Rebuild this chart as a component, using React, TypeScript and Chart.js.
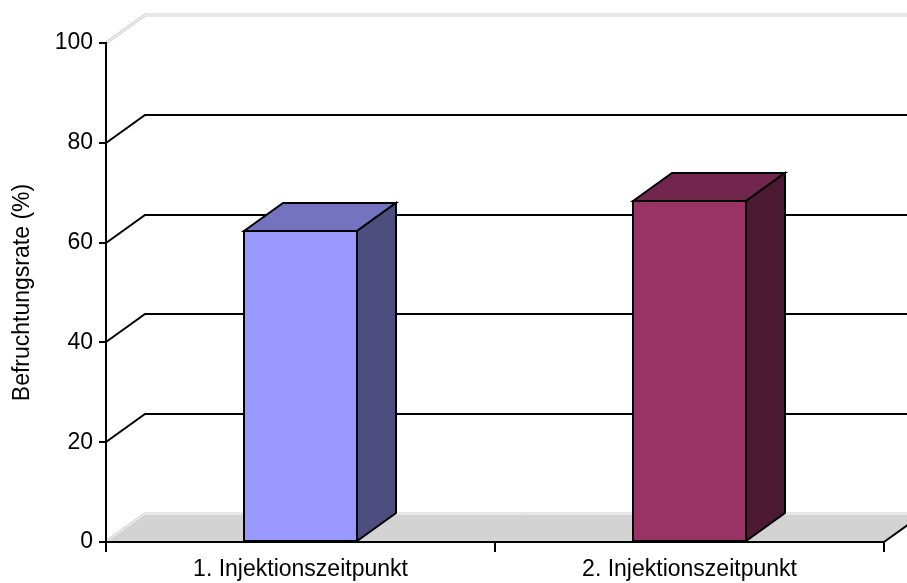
import React, { useEffect, useRef } from "react";
import { Chart, registerables } from "chart.js";

Chart.register(...registerables);

// Categories and fertilisation rates (%)
const CATEGORIES = ["1. Injektionszeitpunkt", "2. Injektionszeitpunkt"];
const RATES = [62.3, 68.3];
const FRONT_COLORS = ["#9999ff", "#993366"];
const Y_MIN = 0;
const Y_MAX = 100;
const Y_STEP = 20;
const Y_TITLE = "Befruchtungsrate (%)";

const FONT = "'Liberation Sans', Arial, sans-serif";
const DEPTH_X = 39;
const DEPTH_Y = 28;

function shade(hex: string, f: number): string {
  const n = parseInt(hex.slice(1), 16);
  const r = Math.round(((n >> 16) & 255) * f);
  const g = Math.round(((n >> 8) & 255) * f);
  const b = Math.round((n & 255) * f);
  return `rgb(${r},${g},${b})`;
}

function lightLine(ctx: CanvasRenderingContext2D, pts: number[][]) {
  ctx.save();
  ctx.beginPath();
  ctx.moveTo(pts[0][0], pts[0][1]);
  for (let i = 1; i < pts.length; i++) ctx.lineTo(pts[i][0], pts[i][1]);
  ctx.lineWidth = 3;
  ctx.strokeStyle = "#cfcfcf";
  ctx.stroke();
  ctx.lineWidth = 1;
  ctx.strokeStyle = "#ffffff";
  ctx.stroke();
  ctx.restore();
}

// Walls, floor and the 3D boxes around the bars
const box3d = {
  id: "box3d",
  beforeDraw(chart: any) {
    const { ctx, chartArea: a, scales } = chart;
    const ys = scales.y;
    const far = chart.width + DEPTH_X + 10;
    const left = Math.round(a.left);
    const right = Math.round(a.right);
    ctx.save();
    ctx.fillStyle = "#ffffff";
    ctx.fillRect(0, 0, chart.width, chart.height);

    // floor
    const y0 = Math.round(ys.getPixelForValue(Y_MIN));
    ctx.beginPath();
    ctx.moveTo(left, y0);
    ctx.lineTo(right, y0);
    ctx.lineTo(right + DEPTH_X, y0 - DEPTH_Y);
    ctx.lineTo(left + DEPTH_X, y0 - DEPTH_Y);
    ctx.closePath();
    ctx.fillStyle = "#d3d3d3";
    ctx.fill();
    lightLine(ctx, [
      [left, y0],
      [left + DEPTH_X, y0 - DEPTH_Y],
      [far, y0 - DEPTH_Y],
    ]);
    ctx.beginPath();
    ctx.moveTo(right, y0);
    ctx.lineTo(right + DEPTH_X, y0 - DEPTH_Y);
    ctx.lineWidth = 2;
    ctx.strokeStyle = "#000000";
    ctx.stroke();

    // side-wall and back-wall grid lines
    for (const t of ys.ticks) {
      const v = t.value;
      if (v === Y_MIN) continue;
      const py = Math.round(ys.getPixelForValue(v));
      const pts = [
        [left, py],
        [left + DEPTH_X, py - DEPTH_Y],
        [far, py - DEPTH_Y],
      ];
      if (v === Y_MAX) {
        lightLine(ctx, pts);
      } else {
        ctx.beginPath();
        ctx.moveTo(pts[0][0], pts[0][1]);
        ctx.lineTo(pts[1][0], pts[1][1]);
        ctx.lineTo(pts[2][0], pts[2][1]);
        ctx.lineWidth = 2;
        ctx.strokeStyle = "#000000";
        ctx.stroke();
      }
    }
    ctx.restore();
  },
  afterDatasetsDraw(chart: any) {
    const { ctx } = chart;
    const meta = chart.getDatasetMeta(0);
    ctx.save();
    ctx.lineWidth = 2;
    ctx.strokeStyle = "#000000";
    ctx.lineJoin = "miter";
    meta.data.forEach((bar: any, i: number) => {
      const p = bar.getProps(["x", "y", "base", "width"], true);
      const l = Math.round(p.x - p.width / 2);
      const r = Math.round(p.x + p.width / 2);
      const y = Math.round(p.y);
      const base = Math.round(p.base);
      const col = FRONT_COLORS[i % FRONT_COLORS.length];
      // front face
      ctx.beginPath();
      ctx.rect(l, y, r - l, base - y);
      ctx.fillStyle = col;
      ctx.fill();
      ctx.stroke();
      // top face
      ctx.beginPath();
      ctx.moveTo(l, y);
      ctx.lineTo(l + DEPTH_X, y - DEPTH_Y);
      ctx.lineTo(r + DEPTH_X, y - DEPTH_Y);
      ctx.lineTo(r, y);
      ctx.closePath();
      ctx.fillStyle = shade(col, 0.75);
      ctx.fill();
      ctx.stroke();
      // side face
      ctx.beginPath();
      ctx.moveTo(r, y);
      ctx.lineTo(r + DEPTH_X, y - DEPTH_Y);
      ctx.lineTo(r + DEPTH_X, base - DEPTH_Y);
      ctx.lineTo(r, base);
      ctx.closePath();
      ctx.fillStyle = shade(col, 0.5);
      ctx.fill();
      ctx.stroke();
    });
    ctx.restore();
  },
};

export default function App() {
  const ref = useRef<HTMLCanvasElement | null>(null);

  useEffect(() => {
    if (!ref.current) return;
    const chart = new Chart(ref.current, {
      type: "bar",
      data: {
        labels: CATEGORIES,
        datasets: [
          {
            data: RATES,
            backgroundColor: "rgba(0,0,0,0)",
            borderWidth: 0,
            categoryPercentage: 1,
            barPercentage: 0.288,
          },
        ],
      },
      options: {
        animation: false,
        responsive: false,
        devicePixelRatio: 1,
        layout: { padding: { top: 43, right: 23, left: 0, bottom: 0 } },
        plugins: {
          legend: { display: false },
          tooltip: { enabled: false },
        },
        scales: {
          x: {
            afterFit: (s: any) => {
              s.height = 41;
            },
            border: { display: true, color: "#000000", width: 2 },
            grid: {
              drawOnChartArea: false,
              drawTicks: true,
              tickLength: 10,
              color: "#000000",
              lineWidth: 2,
              offset: true,
            },
            ticks: {
              color: "#000000",
              padding: 4,
              font: { family: FONT, size: 23 },
              maxRotation: 0,
            },
          },
          y: {
            min: Y_MIN,
            max: Y_MAX,
            afterFit: (s: any) => {
              s.width = 106;
            },
            border: { display: true, color: "#000000", width: 2 },
            grid: {
              drawOnChartArea: false,
              drawTicks: true,
              tickLength: 7,
              color: "#000000",
              lineWidth: 2,
            },
            ticks: {
              stepSize: Y_STEP,
              color: "#000000",
              padding: 6,
              font: { family: FONT, size: 23 },
            },
            title: {
              display: true,
              text: Y_TITLE,
              color: "#000000",
              font: { family: FONT, size: 23 },
              padding: { top: 9, bottom: 0 },
            },
          },
        },
      },
      plugins: [box3d],
    });
    return () => chart.destroy();
  }, []);

  return (
    <div
      style={{
        position: "fixed",
        left: 0,
        top: 0,
        width: 907,
        height: 583,
        background: "#ffffff",
      }}
    >
      <canvas ref={ref} width={907} height={583} />
    </div>
  );
}
